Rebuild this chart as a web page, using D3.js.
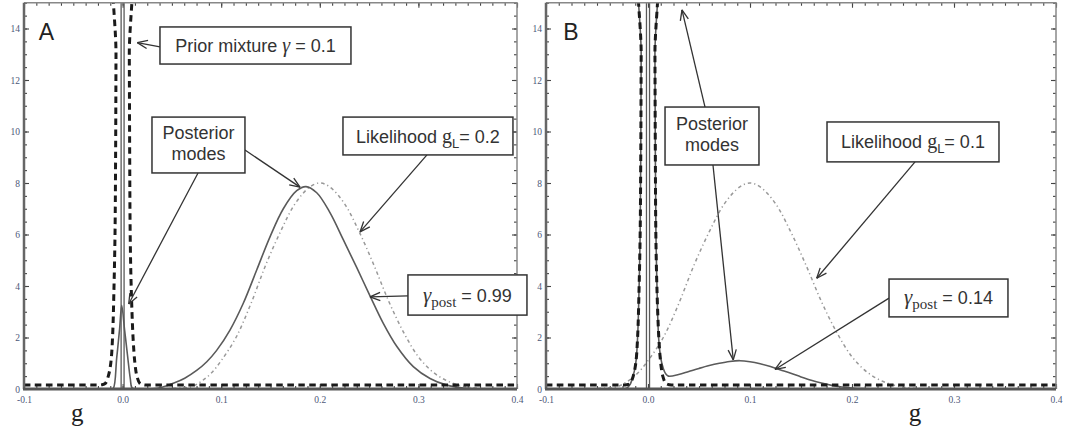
<!DOCTYPE html>
<html><head><meta charset="utf-8">
<script src="https://cdnjs.cloudflare.com/ajax/libs/d3/7.8.5/d3.min.js"></script>
<style>body{margin:0;background:#fff;} svg{display:block;}</style>
</head><body><svg id="c" width="1065" height="432"></svg>
<script>
// ---------- data ----------
const xTickValues = [-0.1, 0, 0.1, 0.2, 0.3, 0.4];
const xTickLabels = ["-0.1", "0.0", "0.1", "0.2", "0.3", "0.4"];
const yTickValues = [0, 2, 4, 6, 8, 10, 12, 14];

// prior mixture (same in both panels): [g, density]
const priorMix = [[-0.1,0.16],[-0.04,0.16],[-0.021,0.165],[-0.0175,0.22],[-0.0145,0.5],[-0.012,1.0],[-0.0102,2],[-0.0087,4],[-0.0077,6],[-0.0071,9],[-0.0067,13],[-0.0064,17],
  [0.0064,17],[0.0068,13],[0.0072,9],[0.0077,6],[0.0087,4],[0.0106,2],[0.0125,1.0],[0.0145,0.5],[0.0175,0.22],[0.021,0.165],[0.04,0.16],[0.4,0.16]];

// narrow spike at zero (both panels)
const zeroSpike = [[-0.0015,0],[-0.0015,17],[0.0015,17],[0.0015,0]];

// panel A
const posteriorA = [[-0.1,0],[-0.012,0],[-0.0094,0.03],[-0.006,1.2],[-0.003,2.35],[-0.0009,3.25],[0.002,2.3],[0.005,1.3],[0.0078,0.4],[0.0095,0.05],[0.013,0],
  [0.03,0.01],[0.04,0.07],[0.0514,0.22],[0.063,0.42],[0.0751,0.72],[0.0854,1.06],[0.0954,1.5],[0.1089,2.29],[0.1224,3.33],[0.136,4.62],[0.1495,5.91],[0.163,7.0],
  [0.1766,7.7],[0.186,7.86],[0.1969,7.62],[0.2103,6.85],[0.2238,5.8],[0.2374,4.72],[0.2509,3.62],[0.2644,2.55],[0.278,1.66],[0.2948,0.87],[0.3118,0.41],
  [0.3287,0.15],[0.3455,0.04],[0.36,0.01],[0.4,0]];
const likelihoodA = [[0.04,0],[0.05,0.02],[0.06,0.04],[0.07,0.09],[0.08,0.3],[0.09,0.62],[0.1,1.1],[0.115,2.0],[0.13,3.3],[0.145,4.8],[0.16,6.1],[0.175,7.2],
  [0.19,7.85],[0.2,8.0],[0.21,7.85],[0.225,7.2],[0.24,6.1],[0.255,4.8],[0.27,3.4],[0.285,2.2],[0.3,1.25],[0.315,0.65],[0.33,0.3],[0.345,0.11],[0.36,0.03],[0.38,0]];

// panel B
const posteriorB = [[-0.1,0],[-0.03,0],[-0.021,0.03],[-0.018,0.15],[-0.015,0.45],[-0.012,1.0],[-0.0102,2],[-0.0087,4],[-0.0077,6],[-0.0071,9],[-0.0067,13],[-0.0064,17],
  [0.0064,17],[0.0068,13],[0.0072,9],[0.0078,6],[0.0088,4],[0.0104,2],[0.0125,1.2],[0.015,0.8],[0.0175,0.58],[0.02,0.5],[0.03,0.56],[0.04,0.68],[0.05,0.8],
  [0.06,0.91],[0.07,1.0],[0.08,1.07],[0.09,1.1],[0.1,1.06],[0.11,0.98],[0.12,0.87],[0.13,0.74],[0.14,0.61],[0.15,0.47],[0.16,0.34],[0.17,0.23],[0.18,0.14],
  [0.19,0.08],[0.2,0.04],[0.21,0.015],[0.23,0],[0.4,0]];
const likelihoodB = [[-0.06,0],[-0.05,0.02],[-0.04,0.04],[-0.03,0.09],[-0.02,0.3],[-0.01,0.62],[0,1.1],[0.015,2.0],[0.03,3.3],[0.045,4.8],[0.06,6.1],[0.075,7.2],
  [0.09,7.85],[0.1,8.0],[0.11,7.85],[0.125,7.2],[0.14,6.1],[0.155,4.8],[0.17,3.4],[0.185,2.2],[0.2,1.25],[0.215,0.65],[0.23,0.3],[0.245,0.11],[0.26,0.03],[0.28,0]];

// annotation texts
const SANS = "'Liberation Sans', Arial, sans-serif";
const SERIF = "'Liberation Serif', 'Times New Roman', serif";
const notesA = [
  {box:[0.0379,14.06,0.2316,12.62], lines:[[{t:"Prior mixture "},{t:"\u03b3",f:SERIF,i:true,s:20},{t:" = 0.1"}]],
   arrows:[[[0.0379,13.29],[0.0149,13.45]]]},
  {box:[0.0298,10.56,0.1241,8.39], lines:[[{t:"Posterior"}],[{t:"modes"}]],
   arrows:[[[0.0765,8.39],[0.0062,3.30]],[[0.1241,9.28],[0.1799,7.84]]]},
  {box:[0.2235,10.56,0.3959,9.09], lines:[[{t:"Likelihood "},{t:"g",f:SERIF,s:20},{t:"L",sub:true,s:13},{t:"= 0.2",up:true}]],
   arrows:[[[0.3087,9.09],[0.2408,6.10]]]},
  {box:[0.2894,4.43,0.4101,2.87], lines:[[{t:"\u03b3",f:SERIF,i:true,s:21},{t:"post",f:SERIF,sub:true,s:15},{t:"  = 0.99",up:true}]],
   arrows:[[[0.2894,3.62],[0.2509,3.58]]]}
];
const notesB = [
  {box:[0.0167,10.95,0.1088,8.70], lines:[[{t:"Posterior"}],[{t:"modes"}]],
   arrows:[[[0.0559,10.95],[0.0333,14.72]],[[0.0637,8.70],[0.0836,1.13]]]},
  {box:[0.1755,10.37,0.3441,8.82], lines:[[{t:"Likelihood "},{t:"g",f:SERIF,s:20},{t:"L",sub:true,s:13},{t:"= 0.1",up:true}]],
   arrows:[[[0.2618,8.82],[0.1654,4.30]]]},
  {box:[0.2363,4.27,0.3529,2.80], lines:[[{t:"\u03b3",f:SERIF,i:true,s:21},{t:"post",f:SERIF,sub:true,s:15},{t:"  = 0.14",up:true}]],
   arrows:[[[0.2363,3.53],[0.1245,0.76]]]}
];

// ---------- drawing ----------
const svg = d3.select("#c");
const panels = [
  {key:"A", left:24, right:517, prior:priorMix, post:posteriorA, lik:likelihoodA, notes:notesA, letterAt:[-0.085,13.55], gAt:-0.046},
  {key:"B", left:546, right:1056, prior:priorMix, post:posteriorB, lik:likelihoodB, notes:notesB, letterAt:[-0.083,13.55], gAt:0.2618}
];
const TOP = 2.75, BOTTOM = 389;

panels.forEach((p, pi) => {
  const x = d3.scaleLinear().domain([-0.1, 0.4]).range([p.left, p.right]);
  const y = d3.scaleLinear().domain([0, 15]).range([BOTTOM, TOP]);
  const g = svg.append("g");
  const clipId = "clip" + p.key;
  svg.append("clipPath").attr("id", clipId).append("rect")
    .attr("x", p.left).attr("y", TOP).attr("width", p.right - p.left).attr("height", BOTTOM - TOP);

  // minor ticks
  const minorY = d3.range(0, 15.001, 0.5);
  const minorX = d3.range(-0.1, 0.4001, 0.0125);
  const tickStyle = sel => { sel.select(".domain").remove(); sel.selectAll("line").attr("stroke", "#444").attr("stroke-width", 1.1); };
  g.append("g").attr("transform", `translate(${p.left},0)`).call(d3.axisLeft(y).tickValues(minorY).tickSize(-3).tickFormat("")).call(tickStyle);
  g.append("g").attr("transform", `translate(${p.right},0)`).call(d3.axisRight(y).tickValues(minorY).tickSize(-3).tickFormat("")).call(tickStyle);
  g.append("g").attr("transform", `translate(0,${TOP})`).call(d3.axisTop(x).tickValues(minorX).tickSize(-3).tickFormat("")).call(tickStyle);
  g.append("g").attr("transform", `translate(0,${BOTTOM})`).call(d3.axisBottom(x).tickValues(minorX).tickSize(-3).tickFormat("")).call(tickStyle);
  // major ticks + labels
  const labStyle = sel => sel.selectAll("text").attr("font-family", SERIF).attr("font-size", 9.5).attr("fill", "#4d5878");
  g.append("g").attr("transform", `translate(${p.left},0)`)
    .call(d3.axisLeft(y).tickValues(yTickValues).tickSize(-5).tickPadding(4).tickFormat(d3.format("d")))
    .call(tickStyle).call(labStyle);
  g.append("g").attr("transform", `translate(${p.right},0)`).call(d3.axisRight(y).tickValues(yTickValues).tickSize(-5).tickFormat("")).call(tickStyle);
  g.append("g").attr("transform", `translate(0,${TOP})`).call(d3.axisTop(x).tickValues(xTickValues).tickSize(-5).tickFormat("")).call(tickStyle);
  g.append("g").attr("transform", `translate(0,${BOTTOM})`)
    .call(d3.axisBottom(x).tickValues(xTickValues).tickSize(-5).tickPadding(7).tickFormat((d, i) => xTickLabels[i]))
    .call(tickStyle).call(labStyle);

  // curves
  const line = d3.line().x(d => x(d[0])).y(d => y(d[1])).curve(d3.curveCatmullRom.alpha(0.5));
  const lin = d3.line().x(d => x(d[0])).y(d => y(d[1]));
  const cg = g.append("g").attr("clip-path", `url(#${clipId})`);
  cg.append("path").attr("d", line(p.lik)).attr("fill", "none").attr("stroke", "#999").attr("stroke-width", 1.5).attr("stroke-dasharray", "3.5,3,1.2,3");
  cg.append("path").attr("d", line(p.post)).attr("fill", "none").attr("stroke", "#5a5a5a").attr("stroke-width", 1.6);
  cg.append("path").attr("d", lin(zeroSpike)).attr("fill", "none").attr("stroke", "#5a5a5a").attr("stroke-width", 1.3);
  cg.append("path").attr("d", line(p.prior)).attr("fill", "none").attr("stroke", "#1a1a1a").attr("stroke-width", 3).attr("stroke-dasharray", "6.5,4.5");

  // frame
  g.append("line").attr("x1", p.left).attr("x2", p.right).attr("y1", TOP).attr("y2", TOP).attr("stroke", "#888").attr("stroke-width", 1.5);
  g.append("line").attr("x1", p.right).attr("x2", p.right).attr("y1", TOP).attr("y2", BOTTOM).attr("stroke", "#888").attr("stroke-width", 1.5);
  g.append("line").attr("x1", p.left).attr("x2", p.left).attr("y1", TOP).attr("y2", BOTTOM).attr("stroke", "#666").attr("stroke-width", 2.5);
  g.append("line").attr("x1", p.left - 1).attr("x2", p.right).attr("y1", BOTTOM).attr("y2", BOTTOM).attr("stroke", "#555").attr("stroke-width", 3);

  // panel letter and axis label
  g.append("text").attr("x", x(p.letterAt[0])).attr("y", y(p.letterAt[1])).text(p.key)
    .attr("font-family", SANS).attr("font-size", 23).attr("fill", "#222");
  g.append("text").attr("x", x(p.gAt)).attr("y", 421).attr("text-anchor", "middle").text("g")
    .attr("font-family", SERIF).attr("font-size", 25).attr("fill", "#222");

  // annotations
  p.notes.forEach(n => {
    const bx0 = x(n.box[0]), by0 = y(n.box[1]), bx1 = x(n.box[2]), by1 = y(n.box[3]);
    n.arrows.forEach(a => {
      const x0 = x(a[0][0]), y0 = y(a[0][1]), x1 = x(a[1][0]), y1 = y(a[1][1]);
      g.append("line").attr("x1", x0).attr("y1", y0).attr("x2", x1).attr("y2", y1).attr("stroke", "#333").attr("stroke-width", 1.3);
      const ang = Math.atan2(y0 - y1, x0 - x1), L = 11, w = 0.38;
      [ang - w, ang + w].forEach(t => {
        g.append("line").attr("x1", x1).attr("y1", y1).attr("x2", x1 + L * Math.cos(t)).attr("y2", y1 + L * Math.sin(t))
          .attr("stroke", "#333").attr("stroke-width", 1.3);
      });
    });
    g.append("rect").attr("x", bx0).attr("y", by0).attr("width", bx1 - bx0).attr("height", by1 - by0)
      .attr("fill", "#fff").attr("stroke", "#333").attr("stroke-width", 1.5);
    const cx = (bx0 + bx1) / 2, cy = (by0 + by1) / 2;
    const nL = n.lines.length;
    n.lines.forEach((ln, li) => {
      const base = nL === 1 ? cy + 6.5 : cy - 6 + li * 21;
      const t = g.append("text").attr("x", cx).attr("y", base).attr("text-anchor", "middle")
        .attr("font-family", SANS).attr("font-size", 18).attr("fill", "#333");
      ln.forEach(s => {
        const ts = t.append("tspan").text(s.t);
        if (s.f) ts.attr("font-family", s.f);
        if (s.s) ts.attr("font-size", s.s);
        if (s.i) ts.attr("font-style", "italic");
        if (s.sub) ts.attr("dy", 5);
        if (s.up) ts.attr("dy", -5);
      });
    });
  });
});
</script></body></html>
